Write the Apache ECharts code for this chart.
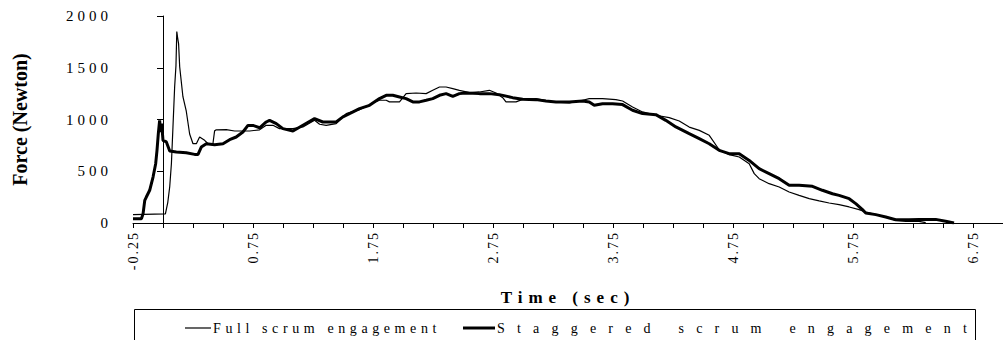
<!DOCTYPE html>
<html>
<head>
<meta charset="utf-8">
<script src="https://cdn.jsdelivr.net/npm/echarts@6/dist/echarts.min.js"></script>
<style>
  html, body { margin: 0; padding: 0; background: #fff; }
  #chart { width: 1003px; height: 340px; }
  text[style*="sptwo"] { letter-spacing: 2px; }
  text[style*="spfour"] { letter-spacing: 4px; }
  text[style*="spfull"] { letter-spacing: 4.6px; }
  text[style*="spsix"] { letter-spacing: 6px; }
  text[style*="spwide"] { letter-spacing: 12.2px; }
</style>
</head>
<body>
<div id="chart"></div>
<script>
// ---- data ----
const fullTime = [-0.25, 0.02, 0.04, 0.056, 0.07, 0.083, 0.097, 0.108, 0.115, 0.122, 0.13, 0.139, 0.166, 0.194, 0.222, 0.25, 0.278, 0.305, 0.347, 0.375, 0.416, 0.43, 0.444, 0.527, 0.597, 0.722, 0.805,
  0.86, 0.916, 0.971, 1.083, 1.166, 1.263, 1.305, 1.36, 1.443, 1.527, 1.638, 1.749, 1.804, 1.86, 1.887, 1.971, 2.026, 2.109, 2.193, 2.248, 2.304, 2.359, 2.415, 2.47, 2.554,
  2.636, 2.72, 2.775, 2.831, 2.858, 2.942, 2.997, 3.108, 3.247, 3.386, 3.497, 3.552, 3.663, 3.774, 3.83, 3.913, 3.996, 4.107, 4.218, 4.302,
  4.385, 4.469, 4.552, 4.635, 4.718, 4.802, 4.885, 4.927, 4.968, 5.051, 5.135, 5.218, 5.301, 5.385, 5.468, 5.551,
  5.634, 5.718, 5.801, 5.856, 5.94, 6.051, 6.106, 6.19, 6.3, 6.356];
const fullForce = [80, 88, 200, 350, 573, 927, 1314, 1520, 1850, 1790, 1730, 1510, 1220, 1080, 860, 766, 766, 831, 799, 766, 766, 890, 900, 902, 889, 889, 900,
  944, 944, 912, 912, 928, 992, 954, 944, 960, 1057, 1095, 1160, 1186, 1186, 1170, 1170, 1250, 1256, 1250, 1282, 1314, 1314, 1298, 1282, 1260,
  1266, 1282, 1256, 1211, 1170, 1170, 1195, 1202, 1170, 1160, 1186, 1202, 1202, 1192, 1179, 1121, 1073, 1041, 1018, 985,
  927, 895, 847, 708, 660, 638, 573, 477, 428, 380, 348, 300, 267, 235, 213, 193,
  177, 155, 129, 106, 81, 48, 26, 16, 16, 3];

const staggeredTime = [-0.25, -0.18, -0.166, -0.152, -0.139, -0.111, -0.083, -0.061, -0.05, -0.039, -0.028, -0.02, -0.011, 0.0, 0.028, 0.056, 0.111, 0.194, 0.264, 0.292, 0.319, 0.361, 0.43, 0.5, 0.555, 0.61, 0.666, 0.708, 0.75, 0.805,
  0.86, 0.888, 0.944, 0.999, 1.083, 1.166, 1.263, 1.332, 1.443, 1.499, 1.554, 1.638, 1.721, 1.804, 1.86, 1.915, 1.971, 2.026, 2.082, 2.137, 2.193, 2.248, 2.304, 2.359, 2.415, 2.47, 2.526, 2.637,
  2.72, 2.803, 2.914, 2.997, 3.108, 3.191, 3.275, 3.386, 3.497, 3.552, 3.594, 3.663, 3.746, 3.83, 3.913, 3.996, 4.107, 4.19, 4.274,
  4.385, 4.469, 4.552, 4.635, 4.718, 4.802, 4.885, 4.968, 5.051, 5.135, 5.218, 5.301, 5.412, 5.495, 5.579, 5.634,
  5.718, 5.773, 5.829, 5.856, 5.94, 6.023, 6.106, 6.217, 6.3, 6.439, 6.522, 6.592];
const staggeredForce = [42, 42, 90, 219, 251, 316, 444, 573, 702, 863, 992, 879, 960, 799, 783, 696, 686, 679, 663, 663, 734, 766, 757, 766, 805, 831, 879, 943, 943, 920,
  976, 992, 960, 912, 889, 944, 1008, 976, 976, 1025, 1057, 1105, 1137, 1202, 1234, 1234, 1218, 1202, 1170, 1170, 1186, 1202, 1234, 1250, 1224, 1250, 1256, 1250,
  1250, 1240, 1211, 1195, 1192, 1179, 1170, 1170, 1179, 1170, 1137, 1153, 1153, 1144, 1089, 1057, 1047, 992, 928,
  863, 815, 766, 702, 670, 670, 605, 525, 477, 428, 364, 364, 354, 316, 283, 267,
  235, 187, 129, 97, 81, 58, 32, 32, 35, 35, 16, 0];

const seriesNames = ['Full scrum engagement', 'Staggered scrum engagement'];
const xTickLabels = ['-0.25', '0.75', '1.75', '2.75', '3.75', '4.75', '5.75', '6.75'];
const yTickLabels = ['0', '500', '1000', '1500', '2000'];
const xTitle = 'Time (sec)';
const yTitle = 'Force (Newton)';

// ---- build ----
const zip = (a, b) => a.map((t, i) => [t, b[i]]);
const serif = "'Liberation Serif'";

const chart = echarts.init(document.getElementById('chart'), null, { renderer: 'svg' });
chart.setOption({
  animation: false,
  backgroundColor: '#fff',
  grid: { left: 133, right: 0, top: 16, bottom: 117, containLabel: false },
  xAxis: {
    type: 'value', min: -0.25, max: 7.0, interval: 0.25,
    name: xTitle, nameLocation: 'middle', nameGap: 66,
    nameTextStyle: { fontFamily: serif + ', spsix', fontSize: 17, fontWeight: 'bold', color: '#000' },
    axisLine: { show: true, onZero: false, lineStyle: { color: '#000', width: 1 } },
    axisTick: { show: true, inside: false, length: 5, lineStyle: { color: '#000' } },
    splitLine: { show: false },
    axisLabel: {
      rotate: 90, margin: 8, color: '#000', fontSize: 14, fontFamily: serif + ', sptwo',
      formatter: v => { const s = v.toFixed(2); return xTickLabels.includes(s) ? s : ''; }
    }
  },
  yAxis: {
    type: 'value', min: 0, max: 2000, interval: 500,
    name: yTitle, nameLocation: 'middle', nameGap: 103,
    nameTextStyle: { fontFamily: serif, fontSize: 20, fontWeight: 'bold', color: '#000' },
    axisLine: { show: true, lineStyle: { color: '#000', width: 1 } },
    axisTick: { show: true, inside: false, length: 6, lineStyle: { color: '#000' } },
    splitLine: { show: false },
    axisLabel: {
      margin: 21, color: '#000', fontSize: 15, fontFamily: serif + ', spfour',
      formatter: v => yTickLabels[Math.round(v / 500)]
    }
  },
  legend: [
    { data: [{ name: seriesNames[0], icon: 'rect' }], left: 180, top: 316, itemWidth: 26, itemHeight: 1.2,
      textStyle: { fontFamily: serif + ', spfull', fontSize: 14, color: '#000', padding: [0, 0, 0, -3] } },
    { data: [{ name: seriesNames[1], icon: 'rect' }], left: 458, top: 316, itemWidth: 32, itemHeight: 3,
      textStyle: { fontFamily: serif + ', spwide', fontSize: 14, color: '#000', padding: [0, 0, 0, -3] } }
  ],
  graphic: [{
    type: 'rect', shape: { x: 134.5, y: 309.5, width: 841, height: 40 },
    style: { fill: 'none', stroke: '#000', lineWidth: 1 }, silent: true
  }],
  series: [
    { name: seriesNames[0], type: 'line', data: zip(fullTime, fullForce), symbol: 'none', showSymbol: false,
      lineStyle: { color: '#000', width: 1.2 }, itemStyle: { color: '#000' }, z: 3 },
    { name: seriesNames[1], type: 'line', data: zip(staggeredTime, staggeredForce), symbol: 'none', showSymbol: false,
      lineStyle: { color: '#000', width: 3 }, itemStyle: { color: '#000' }, z: 2 }
  ]
});
</script>
</body>
</html>
